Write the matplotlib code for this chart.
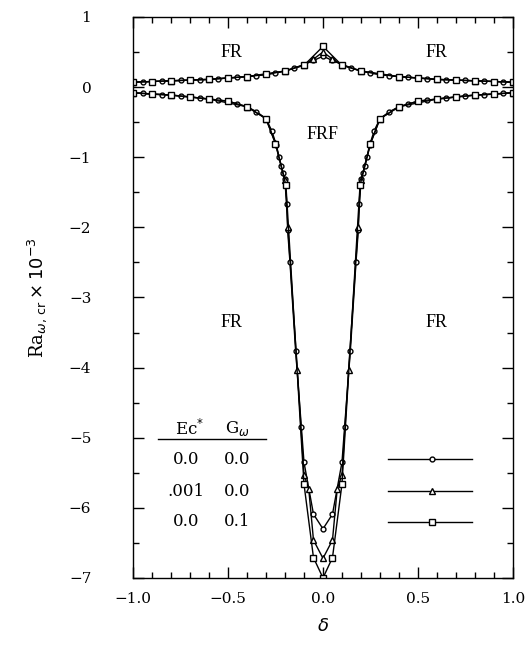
import numpy as np
import matplotlib.pyplot as plt
from matplotlib.ticker import MultipleLocator

# upper branch (FR / FRF boundary), delta and Ra*1e-3
up_d_circ = [-1.0, -0.95, -0.9, -0.85, -0.8, -0.75, -0.7, -0.65, -0.6, -0.55, -0.5,
             -0.45, -0.4, -0.35, -0.3, -0.25, -0.2, -0.15, -0.1, -0.05, 0.0,
             0.05, 0.1, 0.15, 0.2, 0.25, 0.3, 0.35, 0.4, 0.45, 0.5,
             0.55, 0.6, 0.65, 0.7, 0.75, 0.8, 0.85, 0.9, 0.95, 1.0]
up_circ = [0.07, 0.075, 0.08, 0.085, 0.09, 0.095, 0.10, 0.105, 0.11, 0.12, 0.13,
           0.14, 0.15, 0.16, 0.18, 0.20, 0.23, 0.27, 0.32, 0.38, 0.44,
           0.38, 0.32, 0.27, 0.23, 0.20, 0.18, 0.16, 0.15, 0.14, 0.13,
           0.12, 0.11, 0.105, 0.10, 0.095, 0.09, 0.085, 0.08, 0.075, 0.07]
up_d_tri = [-1.0, -0.8, -0.6, -0.4, -0.2, -0.1, -0.05, 0.0, 0.05, 0.1, 0.2, 0.4, 0.6, 0.8, 1.0]
up_tri = [0.07, 0.09, 0.11, 0.15, 0.23, 0.32, 0.40, 0.50, 0.40, 0.32, 0.23, 0.15, 0.11, 0.09, 0.07]
up_d_sq = [-1.0, -0.9, -0.8, -0.7, -0.6, -0.5, -0.4, -0.3, -0.2, -0.1, 0.0,
           0.1, 0.2, 0.3, 0.4, 0.5, 0.6, 0.7, 0.8, 0.9, 1.0]
up_sq = [0.07, 0.08, 0.09, 0.10, 0.11, 0.13, 0.15, 0.18, 0.23, 0.31, 0.58,
         0.31, 0.23, 0.18, 0.15, 0.13, 0.11, 0.10, 0.09, 0.08, 0.07]

# lower branch (FR / FRF boundary)
lo_d_circ = [-1.0, -0.95, -0.9, -0.85, -0.8, -0.75, -0.7, -0.65, -0.6, -0.55, -0.5,
             -0.45, -0.4, -0.35, -0.3, -0.27, -0.245, -0.232, -0.22, -0.21, -0.2,
             -0.19, -0.186, -0.174, -0.144, -0.114, -0.1, -0.05, 0.0,
             0.05, 0.1, 0.114, 0.144, 0.174, 0.186, 0.19,
             0.2, 0.21, 0.22, 0.232, 0.245, 0.27, 0.3, 0.35, 0.4, 0.45,
             0.5, 0.55, 0.6, 0.65, 0.7, 0.75, 0.8, 0.85, 0.9, 0.95, 1.0]
lo_circ = [-0.08, -0.09, -0.10, -0.107, -0.114, -0.125, -0.14, -0.155, -0.17, -0.185, -0.20,
           -0.24, -0.28, -0.35, -0.45, -0.62, -0.83, -0.99, -1.12, -1.23, -1.31,
           -1.66, -2.04, -2.49, -3.76, -4.84, -5.35, -6.09, -6.30,
           -6.09, -5.35, -4.84, -3.76, -2.49, -2.04, -1.66,
           -1.31, -1.23, -1.12, -0.99, -0.83, -0.62, -0.45, -0.35, -0.28, -0.24,
           -0.20, -0.185, -0.17, -0.155, -0.14, -0.125, -0.114, -0.107, -0.10, -0.09, -0.08]
lo_d_tri = [-1.0, -0.8, -0.6, -0.4, -0.3, -0.25, -0.2, -0.185, -0.135, -0.1, -0.075, -0.05, 0.0,
            0.05, 0.075, 0.1, 0.135, 0.185, 0.2, 0.25, 0.3, 0.4, 0.6, 0.8, 1.0]
lo_tri = [-0.08, -0.114, -0.17, -0.28, -0.45, -0.80, -1.33, -2.0, -4.03, -5.53, -5.73, -6.46, -6.72,
          -6.46, -5.73, -5.53, -4.03, -2.0, -1.33, -0.80, -0.45, -0.28, -0.17, -0.114, -0.08]
lo_d_sq = [-1.0, -0.9, -0.8, -0.7, -0.6, -0.5, -0.4, -0.3, -0.25, -0.195, -0.1, -0.05, 0.0,
           0.05, 0.1, 0.195, 0.25, 0.3, 0.4, 0.5, 0.6, 0.7, 0.8, 0.9, 1.0]
lo_sq = [-0.08, -0.10, -0.114, -0.14, -0.17, -0.20, -0.28, -0.45, -0.81, -1.40, -5.66, -6.71, -7.00,
         -6.71, -5.66, -1.40, -0.81, -0.45, -0.28, -0.20, -0.17, -0.14, -0.114, -0.10, -0.08]

ec_labels = ["0.0", ".001", "0.0"]
g_labels = ["0.0", "0.0", "0.1"]
markers = ["o", "^", "s"]
msizes = [3.5, 4.0, 4.8]

plt.rcParams['font.family'] = ['DejaVu Serif']

fig = plt.figure(figsize=(5.31, 6.46), dpi=100)
ax = fig.add_axes([0.2505, 0.1053, 0.7155, 0.8684])

series = [(up_d_circ, up_circ, lo_d_circ, lo_circ),
          (up_d_tri, up_tri, lo_d_tri, lo_tri),
          (up_d_sq, up_sq, lo_d_sq, lo_sq)]
for (ud, uv, ld, lv), m, ms in zip(series, markers, msizes):
    for d, v in ((ud, uv), (ld, lv)):
        ax.plot(d, v, color="black", lw=1.0, marker=m, ms=ms,
                mfc="white", mec="black", mew=1.0)

ax.set_xlim(-1.0, 1.0)
ax.set_ylim(-7, 1)
ax.xaxis.set_major_locator(MultipleLocator(0.5))
ax.xaxis.set_minor_locator(MultipleLocator(0.1))
ax.yaxis.set_major_locator(MultipleLocator(1))
ax.yaxis.set_minor_locator(MultipleLocator(0.5))
ax.tick_params(which="both", direction="in", top=True, right=True, labelsize=11)
ax.tick_params(which="major", length=8, width=1)
ax.tick_params(which="minor", length=4, width=1)
ax.xaxis.set_ticks([-1.0, -0.5, 0.0, 0.5, 1.0])
ax.xaxis.set_ticklabels(["\u22121.0", "\u22120.5", "0.0", "0.5", "1.0"])
ax.tick_params(axis="x", pad=10)
ax.tick_params(axis="y", pad=30)
for s in ax.spines.values():
    s.set_linewidth(1.0)

ax.set_xlabel(r"$\delta$", fontsize=13, labelpad=8)
ax.set_ylabel(r"Ra$_{\omega,\,\mathrm{cr}}\times10^{-3}$", fontsize=13, labelpad=14)

# region labels
for x, y, t in [(-0.48, 0.5, "FR"), (0.6, 0.5, "FR"), (0.0, -0.68, "FRF"),
                (-0.48, -3.35, "FR"), (0.6, -3.35, "FR")]:
    ax.text(x, y, t, fontsize=13, ha="center", va="center",
            family="Liberation Serif")

# legend table
ax.text(-0.70, -4.87, r"Ec$^{*}$", fontsize=12, ha="center", va="center")
ax.text(-0.45, -4.87, r"G$_{\omega}$", fontsize=12, ha="center", va="center")
ax.plot([-0.87, -0.30], [-5.02, -5.02], color="black", lw=1.0)
rows_y = [-5.31, -5.76, -6.20]
for ec, g, y, m, ms in zip(ec_labels, g_labels, rows_y, markers, msizes):
    ax.text(-0.72, y, ec, fontsize=12, ha="center", va="center")
    ax.text(-0.45, y, g, fontsize=12, ha="center", va="center")
    ax.plot([0.344, 0.785], [y, y], color="black", lw=1.0)
    ax.plot([0.575], [y], marker=m, ms=ms, mfc="white", mec="black", mew=1.0)

fig.savefig("out.png", dpi=100)
